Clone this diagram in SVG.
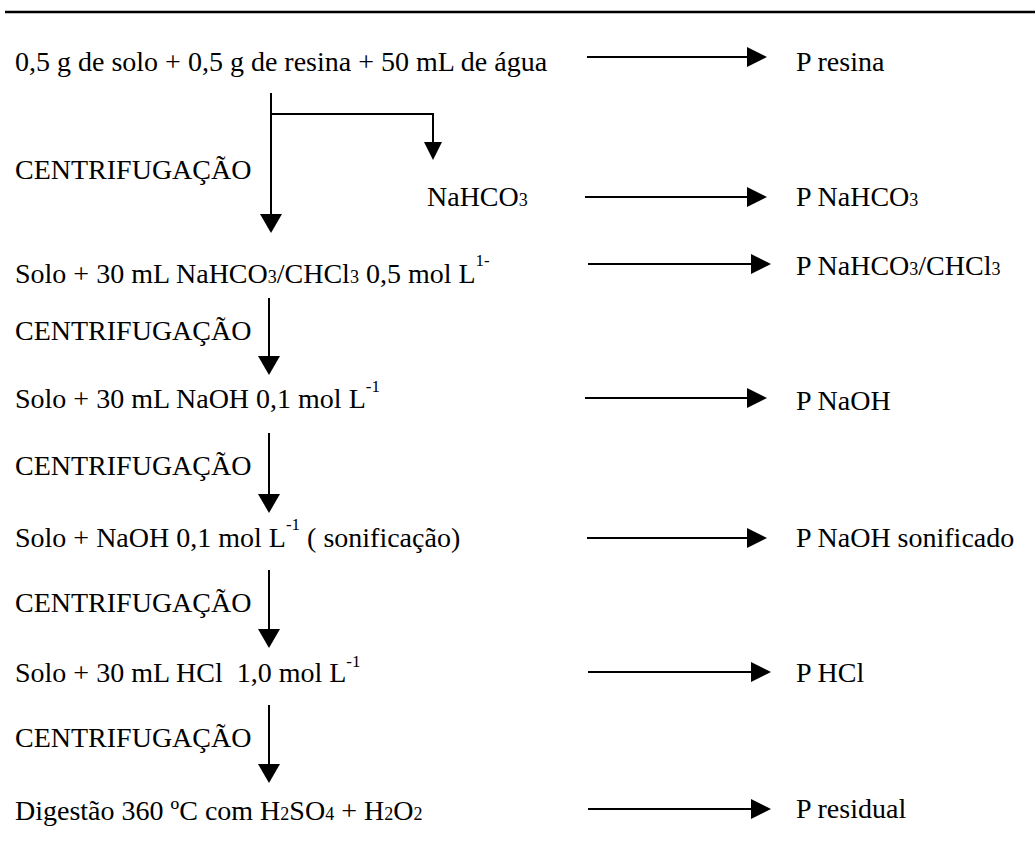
<svg xmlns="http://www.w3.org/2000/svg" width="1035" height="853" viewBox="0 0 1035 853">
<style>
text{font-family:"Liberation Serif","Times New Roman",serif;font-size:28px;fill:#000}
.s{font-size:18px}
.sup{font-size:17px}
.ln{stroke:#000;stroke-width:2;fill:none}
</style>
<defs>
<marker id="ah" markerUnits="userSpaceOnUse" markerWidth="20" markerHeight="20" refX="0" refY="10" orient="auto" viewBox="0 0 20 20"><path d="M0,0 L20,10 L0,20 z" fill="#000"/></marker>
<marker id="av" markerUnits="userSpaceOnUse" markerWidth="19" markerHeight="22" refX="0" refY="11" orient="auto" viewBox="0 0 19 22"><path d="M0,0 L19,11 L0,22 z" fill="#000"/></marker>
<marker id="ab" markerUnits="userSpaceOnUse" markerWidth="18" markerHeight="18" refX="0" refY="9" orient="auto" viewBox="0 0 18 18"><path d="M0,0 L18,9 L0,18 z" fill="#000"/></marker>
</defs>
<rect x="0" y="0" width="1035" height="853" fill="#fff"/>
<line x1="5" y1="12" x2="1035" y2="12" stroke="#000" stroke-width="2.5"/>

<g id="connectors">
<line class="ln" x1="587" y1="57" x2="747" y2="57" marker-end="url(#ah)"/>
<line class="ln" x1="271" y1="93" x2="271" y2="214" marker-end="url(#av)"/>
<polyline class="ln" points="271,114 433,114 433,142" marker-end="url(#ab)"/>
<line class="ln" x1="585" y1="197" x2="747" y2="197" marker-end="url(#ah)"/>
<line class="ln" x1="588" y1="264" x2="751" y2="264" marker-end="url(#ah)"/>
<line class="ln" x1="269" y1="298" x2="269" y2="356" marker-end="url(#av)"/>
<line class="ln" x1="585" y1="398" x2="747" y2="398" marker-end="url(#ah)"/>
<line class="ln" x1="269" y1="433" x2="269" y2="494" marker-end="url(#av)"/>
<line class="ln" x1="587" y1="538" x2="747" y2="538" marker-end="url(#ah)"/>
<line class="ln" x1="269" y1="570" x2="269" y2="629" marker-end="url(#av)"/>
<line class="ln" x1="588" y1="672" x2="751" y2="672" marker-end="url(#ah)"/>
<line class="ln" x1="269" y1="705" x2="269" y2="764" marker-end="url(#av)"/>
<line class="ln" x1="588" y1="809" x2="751" y2="809" marker-end="url(#ah)"/>
</g>

<g id="n-start"><text x="15" y="71">0,5 g de solo + 0,5 g de resina + 50 mL de água</text></g>
<g id="n-presina"><text x="796" y="71">P resina</text></g>
<g id="n-centrif1"><text x="15" y="179">CENTRIFUGAÇÃO</text></g>
<g id="n-nahco3"><text x="427" y="206">NaHCO<tspan class="s">3</tspan></text></g>
<g id="n-pnahco3"><text x="796" y="206">P NaHCO<tspan class="s">3</tspan></text></g>
<g id="n-row3"><text x="15" y="283">Solo + 30 mL NaHCO<tspan class="s">3</tspan>/CHCl<tspan class="s">3</tspan> 0,5 mol L<tspan class="sup" dy="-17">1-</tspan></text></g>
<g id="n-prow3"><text x="796" y="275">P NaHCO<tspan class="s">3</tspan>/CHCl<tspan class="s">3</tspan></text></g>
<g id="n-centrif2"><text x="15" y="340">CENTRIFUGAÇÃO</text></g>
<g id="n-row4"><text x="15" y="408">Solo + 30 mL NaOH 0,1 mol L<tspan class="sup" dy="-16">-1</tspan></text></g>
<g id="n-pnaoh"><text x="796" y="410">P NaOH</text></g>
<g id="n-centrif3"><text x="15" y="475">CENTRIFUGAÇÃO</text></g>
<g id="n-row5"><text x="15" y="547">Solo + NaOH 0,1 mol L<tspan class="sup" dy="-17">-1</tspan><tspan dy="17"> ( sonificação)</tspan></text></g>
<g id="n-pnaohs"><text x="796" y="547">P NaOH sonificado</text></g>
<g id="n-centrif4"><text x="15" y="612">CENTRIFUGAÇÃO</text></g>
<g id="n-row6"><text x="15" y="682" xml:space="preserve">Solo + 30 mL HCl  1,0 mol L<tspan class="sup" dy="-15">-1</tspan></text></g>
<g id="n-phcl"><text x="796" y="682">P HCl</text></g>
<g id="n-centrif5"><text x="15" y="747">CENTRIFUGAÇÃO</text></g>
<g id="n-row7"><text x="15" y="820">Digestão 360 ºC com H<tspan class="s">2</tspan>SO<tspan class="s">4</tspan> + H<tspan class="s">2</tspan>O<tspan class="s">2</tspan></text></g>
<g id="n-presidual"><text x="796" y="818">P residual</text></g>
</svg>
